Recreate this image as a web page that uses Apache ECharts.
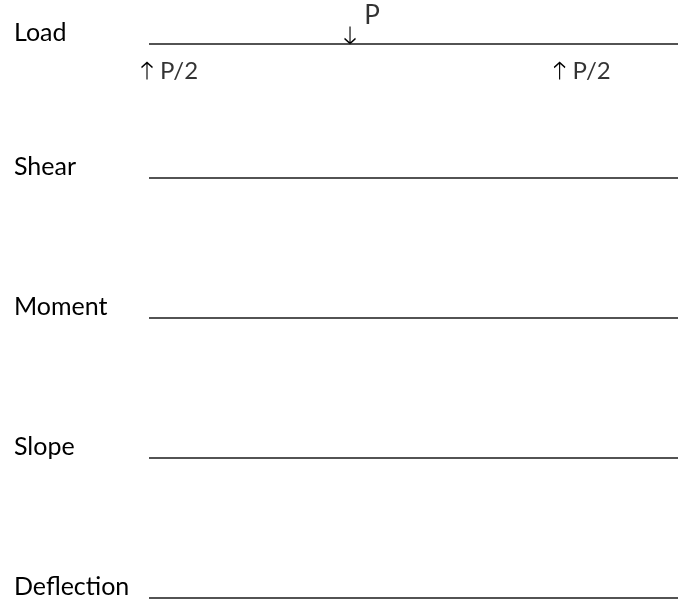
<!DOCTYPE html>
<html><head><meta charset="utf-8">
<script src="https://cdn.jsdelivr.net/npm/echarts/dist/echarts.min.js"></script>
<style>html,body{margin:0;padding:0;background:#fff}#c{width:678px;height:600px}</style>
</head><body><div id="c"></div>
<script>
// ---- data ----
const rows = ['Load', 'Shear', 'Moment', 'Slope', 'Deflection'];
const beamSpan = [0, 1];
const loadPositions = [0.38, 0, 0.78];
const loadLabels = ['P', 'P/2', 'P/2'];
const loadDirections = ['down', 'up', 'up'];

// ---- layout ----
const lineY = [44, 178, 318, 458, 598];
const FONT = 'Lato, "Open Sans", sans-serif';
const DOWN_ARROW = 'path://M5,0 L5,17 M0,12 L5,17 L10,12';
const UP_ARROW = 'path://M5,17 L5,0 M0,5 L5,0 L10,5';
const chart = echarts.init(document.getElementById('c'));

const grids = [], xAxes = [], yAxes = [], series = [], graphics = [];
rows.forEach((name, i) => {
  grids.push({ left: 149, right: 0, top: lineY[i] - 1, height: 2 });
  xAxes.push({ gridIndex: i, type: 'value', min: beamSpan[0], max: beamSpan[1], show: false });
  yAxes.push({ gridIndex: i, type: 'value', min: -1, max: 1, show: false });
  series.push({
    type: 'line', xAxisIndex: i, yAxisIndex: i, symbol: 'none', silent: true,
    lineStyle: { color: '#1a1a1a', width: 1.6 },
    data: [[beamSpan[0], 0], [beamSpan[1], 0]]
  });
  graphics.push({
    type: 'text', left: 14, top: lineY[i] - 24,
    style: { text: name, font: '25px ' + FONT, fill: '#000' }
  });
});

// load annotations
const arrowData = [], textData = [];
loadPositions.forEach((x, k) => {
  if (loadDirections[k] === 'down') {
    arrowData.push({ value: [x, 0], symbol: DOWN_ARROW, symbolOffset: [0, -9] });
    textData.push({ value: [x, 0], label: { formatter: loadLabels[k], fontSize: 26, offset: [22, -28] } });
  } else {
    arrowData.push({ value: [x, 0], symbol: UP_ARROW, symbolOffset: [-2, 27] });
    textData.push({ value: [x, 0], label: { formatter: loadLabels[k], align: 'left', offset: [11, 27] } });
  }
});
series.push({
  type: 'scatter', xAxisIndex: 0, yAxisIndex: 0, silent: true, clip: false,
  symbolSize: [11, 17],
  itemStyle: { color: 'none', borderColor: '#000', borderWidth: 1.4, opacity: 1 },
  data: arrowData
});
series.push({
  type: 'scatter', xAxisIndex: 0, yAxisIndex: 0, symbolSize: 0, silent: true, clip: false,
  label: { show: true, position: 'inside', color: '#000', fontFamily: FONT, fontSize: 24 },
  data: textData
});

chart.setOption({
  animation: false,
  backgroundColor: '#fff',
  grid: grids, xAxis: xAxes, yAxis: yAxes, series: series, graphic: graphics
});
</script></body></html>
